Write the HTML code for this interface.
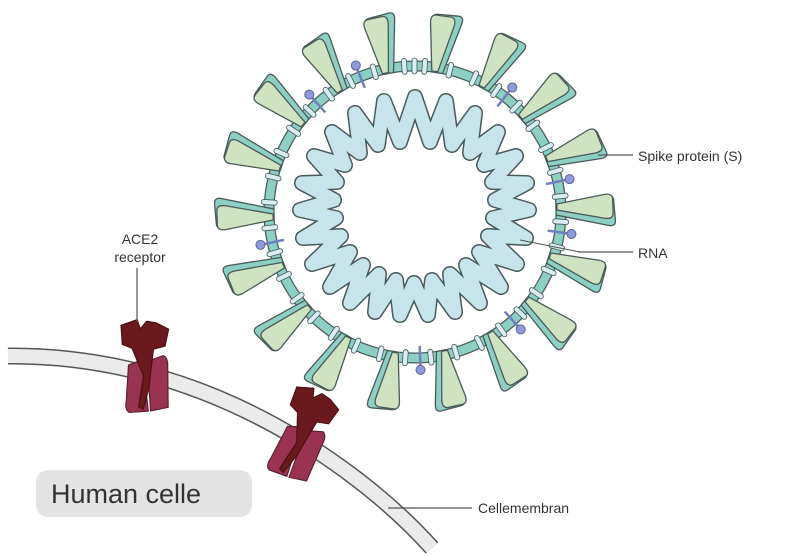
<!DOCTYPE html>
<html><head><meta charset="utf-8"><style>
html,body{margin:0;padding:0;background:#fff;}
svg{display:block;}
text{font-family:"Liberation Sans",sans-serif;fill:#333;}
</style></head><body>
<svg width="800" height="556" viewBox="0 0 800 556">
<defs>
 <g id="spike">
  <path d="M411,70 L402,20 Q401,12 408,12 L428,11 Q434,11 432,19 L420,70 Z" fill="#8ccfc3" stroke="#4a5a5a" stroke-width="1.3" transform="translate(3,1)"/>
  <path d="M412,70 L404,22 Q403,14 409,14 L423,14 Q429,14 428,22 L418,70 Z" fill="#cfe3c2" stroke="#4a5a5a" stroke-width="1.3"/>
 </g>
 <g id="tick">
  <rect x="412" y="58" width="5" height="16" rx="2.5" fill="#d8eef2" stroke="#4a5a5a" stroke-width="0.8"/>
 </g>
 <g id="pin">
  <line x1="415" y1="78" x2="415" y2="56" stroke="#6f7fc0" stroke-width="2.5"/>
  <circle cx="415" cy="54" r="4.5" fill="#8f9bd8" stroke="#5a64a0" stroke-width="1"/>
 </g>
 <g id="ace">
  <path d="M-14,0 L-2,-4 L0,40 L-16,40 Q-20,38 -18,30 Z M2,-2 L16,-6 Q20,-4 19,4 L17,38 L2,40 Z" fill="#9a3352" stroke="#5a2030" stroke-width="1"/>
  <path d="M-18,-34 L-4,-38 L-2,-30 L4,-36 L12,-34 L22,-28 L18,-14 L8,-12 L2,20 L-4,38 L-8,36 L-2,10 L-10,-14 L-18,-18 Z" fill="#6a1a1e" stroke="#4a1014" stroke-width="1"/>
 </g>
</defs>

<!-- cell membrane -->
<path d="M8,356 Q160,355 300,440 Q380,490 432,548" fill="none" stroke="#555" stroke-width="17"/>
<path d="M8,356 Q160,355 300,440 Q380,490 432,548" fill="none" stroke="#ebebeb" stroke-width="14"/>

<!-- virus membrane ring -->
<circle cx="415" cy="212" r="146" fill="none" stroke="#4a5a5a" stroke-width="11"/>
<circle cx="415" cy="212" r="146" fill="none" stroke="#8ccfc3" stroke-width="8.5"/>

<g>
 <use href="#tick" transform="rotate(0 415 212)"/><use href="#tick" transform="rotate(4 415 212)"/>
 <use href="#tick" transform="rotate(-4 415 212)"/><use href="#tick" transform="rotate(14 415 212)"/>
 <use href="#tick" transform="rotate(24 415 212)"/><use href="#tick" transform="rotate(34 415 212)"/>
 <use href="#tick" transform="rotate(44 415 212)"/><use href="#tick" transform="rotate(54 415 212)"/>
 <use href="#tick" transform="rotate(64 415 212)"/><use href="#tick" transform="rotate(74 415 212)"/>
 <use href="#tick" transform="rotate(84 415 212)"/><use href="#tick" transform="rotate(94 415 212)"/>
 <use href="#tick" transform="rotate(104 415 212)"/><use href="#tick" transform="rotate(114 415 212)"/>
 <use href="#tick" transform="rotate(124 415 212)"/><use href="#tick" transform="rotate(134 415 212)"/>
 <use href="#tick" transform="rotate(144 415 212)"/><use href="#tick" transform="rotate(154 415 212)"/>
 <use href="#tick" transform="rotate(164 415 212)"/><use href="#tick" transform="rotate(174 415 212)"/>
 <use href="#tick" transform="rotate(184 415 212)"/><use href="#tick" transform="rotate(194 415 212)"/>
 <use href="#tick" transform="rotate(204 415 212)"/><use href="#tick" transform="rotate(214 415 212)"/>
 <use href="#tick" transform="rotate(224 415 212)"/><use href="#tick" transform="rotate(234 415 212)"/>
 <use href="#tick" transform="rotate(244 415 212)"/><use href="#tick" transform="rotate(254 415 212)"/>
 <use href="#tick" transform="rotate(264 415 212)"/><use href="#tick" transform="rotate(274 415 212)"/>
 <use href="#tick" transform="rotate(284 415 212)"/><use href="#tick" transform="rotate(294 415 212)"/>
 <use href="#tick" transform="rotate(304 415 212)"/><use href="#tick" transform="rotate(314 415 212)"/>
 <use href="#tick" transform="rotate(324 415 212)"/><use href="#tick" transform="rotate(334 415 212)"/>
 <use href="#tick" transform="rotate(344 415 212)"/>
</g>
<g>
 <use href="#pin" transform="rotate(-22 415 212)"/><use href="#pin" transform="rotate(-42 415 212)"/>
 <use href="#pin" transform="rotate(38 415 212)"/><use href="#pin" transform="rotate(78 415 212)"/>
 <use href="#pin" transform="rotate(98 415 212)"/><use href="#pin" transform="rotate(138 415 212)"/>
 <use href="#pin" transform="rotate(178 415 212)"/><use href="#pin" transform="rotate(258 415 212)"/>
</g>
<g>
 <use href="#spike" transform="rotate(8 415 212)"/><use href="#spike" transform="rotate(28 415 212)"/>
 <use href="#spike" transform="rotate(48 415 212)"/><use href="#spike" transform="rotate(68 415 212)"/>
 <use href="#spike" transform="rotate(88 415 212)"/><use href="#spike" transform="rotate(108 415 212)"/>
 <use href="#spike" transform="rotate(128 415 212)"/><use href="#spike" transform="rotate(148 415 212)"/>
 <use href="#spike" transform="rotate(168 415 212)"/><use href="#spike" transform="rotate(188 415 212)"/>
 <use href="#spike" transform="rotate(208 415 212)"/><use href="#spike" transform="rotate(228 415 212)"/>
 <use href="#spike" transform="rotate(248 415 212)"/><use href="#spike" transform="rotate(268 415 212)"/>
 <use href="#spike" transform="rotate(288 415 212)"/><use href="#spike" transform="rotate(308 415 212)"/>
 <use href="#spike" transform="rotate(328 415 212)"/><use href="#spike" transform="rotate(348 415 212)"/>
</g>

<!-- RNA helix -->
<path d="
M415,97 L430,142 L446,101 L452,145 L475,113 L470,153 L498,132 L484,165 L516,156 L492,182 L527,183 L495,200 L529,210 L493,218 L526,238 L488,236 L517,264 L479,252 L501,287 L466,265 L480,303 L450,274 L455,312 L432,280 L428,315 L414,283 L400,315 L396,280 L375,312 L379,274 L350,303 L363,265 L330,287 L350,252 L312,264 L341,236 L303,238 L336,218 L300,210 L334,200 L302,183 L337,182 L314,156 L345,165 L332,132 L360,153 L355,113 L378,145 L384,101 L400,142 Z"
 fill="none" stroke="#4a5a5a" stroke-width="16" stroke-linejoin="round"/>
<path d="
M415,97 L430,142 L446,101 L452,145 L475,113 L470,153 L498,132 L484,165 L516,156 L492,182 L527,183 L495,200 L529,210 L493,218 L526,238 L488,236 L517,264 L479,252 L501,287 L466,265 L480,303 L450,274 L455,312 L432,280 L428,315 L414,283 L400,315 L396,280 L375,312 L379,274 L350,303 L363,265 L330,287 L350,252 L312,264 L341,236 L303,238 L336,218 L300,210 L334,200 L302,183 L337,182 L314,156 L345,165 L332,132 L360,153 L355,113 L378,145 L384,101 L400,142 Z"
 fill="none" stroke="#c6e4ea" stroke-width="13" stroke-linejoin="round"/>

<!-- ACE2 receptors -->
<g transform="translate(145,364) rotate(-4) scale(1.18)"><use href="#ace"/></g>
<g transform="translate(303,432) rotate(20) scale(1.18)"><use href="#ace"/></g>

<!-- labels -->
<line x1="137" y1="268" x2="137" y2="322" stroke="#555" stroke-width="1.2"/>
<text x="140" y="244" font-size="14" text-anchor="middle">ACE2</text>
<text x="140" y="262" font-size="14" text-anchor="middle">receptor</text>

<line x1="598" y1="155" x2="633" y2="155" stroke="#555" stroke-width="1.2"/>
<text x="638" y="161" font-size="14">Spike protein (S)</text>

<line x1="520" y1="240" x2="580" y2="252" stroke="#555" stroke-width="1"/>
<line x1="578" y1="252" x2="633" y2="252" stroke="#555" stroke-width="1.2"/>
<text x="638" y="258" font-size="14">RNA</text>

<line x1="388" y1="508" x2="472" y2="508" stroke="#555" stroke-width="1.2"/>
<text x="478" y="513" font-size="14">Cellemembran</text>

<rect x="36" y="470" width="216" height="47" rx="12" fill="#e4e4e4"/>
<text x="51" y="503" font-size="27" fill="#444">Human celle</text>
</svg>
</body></html>
